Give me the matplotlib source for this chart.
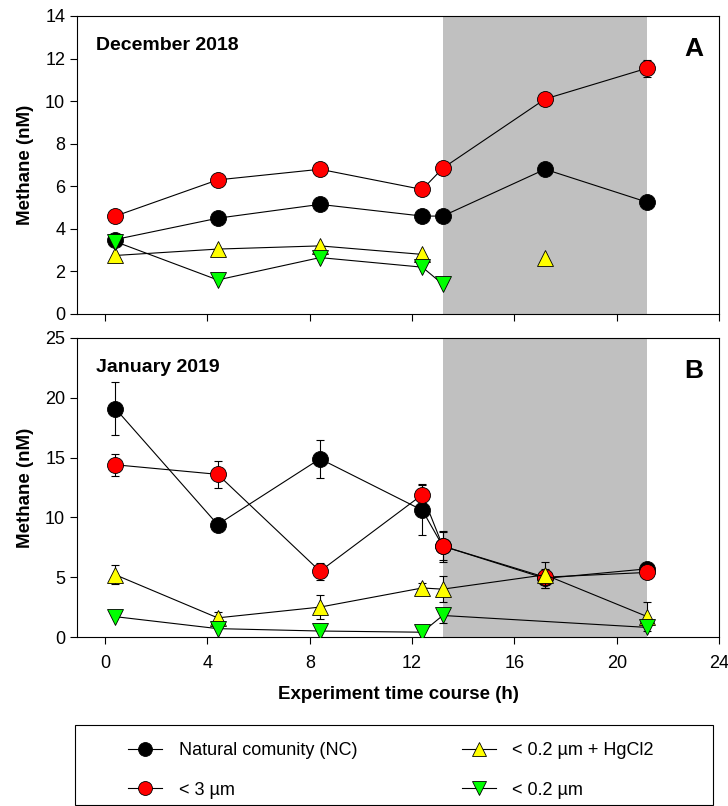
import numpy as np
import matplotlib
matplotlib.use("Agg")
import matplotlib.pyplot as plt
from matplotlib import font_manager
from matplotlib.patches import Rectangle
from matplotlib.lines import Line2D

names = {f.name for f in font_manager.fontManager.ttflist}
fam = ["Liberation Sans Narrow"] if "Liberation Sans Narrow" in names else ["Liberation Sans"]
plt.rcParams['font.family'] = fam + ["DejaVu Sans"]

# ---- data ----
t = [0.4, 4.4, 8.4, 12.4, 13.2, 17.2, 21.2]

# December 2018
dec_nc = [3.5, 4.5, 5.15, 4.6, 4.6, 6.8, 5.25]
dec_nc_err = [0, 0, 0, 0, 0, 0, 0]
dec_3um = [4.6, 6.3, 6.8, 5.85, 6.85, 10.1, 11.55]
dec_3um_err = [0, 0, 0, 0, 0, 0, 0.4]
dec_hg = [2.75, 3.05, 3.2, 2.8, np.nan, 2.65, np.nan]
dec_hg_err = [0, 0, 0, 0, 0, 0, 0]
dec_02 = [3.4, 1.6, 2.65, 2.2, 1.4, np.nan, np.nan]
dec_02_err = [0, 0, 0, 0, 0, 0, 0]

# January 2019
jan_nc = [19.1, 9.4, 14.9, 10.6, 7.6, 4.9, 5.7]
jan_nc_err = [2.2, 0, 1.6, 2.1, 1.3, 0.8, 0]
jan_3um = [14.4, 13.6, 5.5, 11.9, 7.6, 5.0, 5.4]
jan_3um_err = [0.9, 1.1, 0.7, 0.9, 1.2, 0.5, 0]
jan_hg = [5.2, 1.6, 2.5, 4.1, 4.0, 5.2, 1.7]
jan_hg_err = [0.8, 0.5, 1.0, 0.4, 1.1, 1.1, 1.2]
jan_02_t = [0.4, 4.4, 8.4, 12.4, 13.2, 21.2]
jan_02 = [1.7, 0.7, 0.5, 0.4, 1.8, 0.8]
jan_02_err = [0, 0, 0, 0, 0.6, 0]

labels = ["Natural comunity (NC)", "< 3 \u00b5m", "< 0.2 \u00b5m + HgCl2", "< 0.2 \u00b5m"]
colors = ["black", "#ff0000", "#ffff00", "#00ff00"]
markers = ["o", "o", "^", "v"]

fig = plt.figure(figsize=(7.28, 8.06), dpi=100)
W, H = 728, 806
def ax_rect(x0, y0, x1, y1):
    return [x0 / W, 1 - y1 / H, (x1 - x0) / W, (y1 - y0) / H]

axA = fig.add_axes(ax_rect(77, 16, 719, 314))
axB = fig.add_axes(ax_rect(77, 338, 719, 637))

def draw(ax, series, ylim, yticks, title, letter):
    ax.axvspan(13.2, 21.2, color="#c0c0c0", zorder=0, lw=0)
    for i, (x, y, e) in enumerate(series):
        x = np.array(x, float); y = np.array(y, float); e = np.array(e, float)
        ms = 11.5 if markers[i] == "o" else 11
        m = ~np.isnan(y) & (e > 0)
        if m.any():
            ax.errorbar(x[m], y[m], yerr=e[m], fmt="none", ecolor="black",
                        elinewidth=0.8, capsize=3, capthick=0.8, zorder=2 + i)
        ax.plot(x, y, color="black", lw=0.8, marker=markers[i], ms=ms,
                mfc=colors[i], mec="black", mew=0.6, zorder=3 + i,
                label=labels[i])
    ax.set_xlim(-1.1, 24)
    ax.set_ylim(*ylim)
    ax.set_yticks(yticks)
    ax.set_xticks([0, 4, 8, 12, 16, 20, 24])
    ax.tick_params(direction="out", labelsize=13, length=5, width=0.8)
    ax.tick_params(axis="x", pad=8)
    ax.set_ylabel("Methane (nM)", fontsize=13.5, fontweight="bold",
                  family=["Liberation Sans", "DejaVu Sans"], labelpad=8)
    ax.text(0.03, 0.93, title, transform=ax.transAxes, fontsize=14,
            fontweight="bold", va="top", ha="left")
    ax.text(0.975, 0.93, letter, transform=ax.transAxes, fontsize=19,
            fontweight="bold", va="top", ha="right",
            family=["Liberation Sans", "DejaVu Sans"])
    for s in ax.spines.values():
        s.set_linewidth(0.8)

draw(axA, [(t, dec_nc, dec_nc_err), (t, dec_3um, dec_3um_err),
           (t, dec_hg, dec_hg_err), (t, dec_02, dec_02_err)],
     (0, 14), range(0, 15, 2), "December 2018", "A")
axA.tick_params(labelbottom=False)

draw(axB, [(t, jan_nc, jan_nc_err), (t, jan_3um, jan_3um_err),
           (t, jan_hg, jan_hg_err), (jan_02_t, jan_02, jan_02_err)],
     (0, 25), range(0, 26, 5), "January 2019", "B")
axB.set_xlabel("Experiment time course (h)", fontsize=13.5, fontweight="bold",
               labelpad=10)

# legend frame
fig.patches.append(Rectangle((75 / W, 1 - 805 / H), (713 - 75) / W, (805 - 725) / H,
                             transform=fig.transFigure, fill=False,
                             edgecolor="black", lw=0.8))

lh = [Line2D([], [], color="black", lw=0.8, marker=markers[i], ms=10,
             mfc=colors[i], mec="black", mew=0.6) for i in range(4)]
leg = fig.legend(lh, labels, ncol=2, loc="upper left",
                 bbox_to_anchor=(128 / W, 1 - 742 / H),
                 frameon=False, fontsize=13, borderpad=0, borderaxespad=0,
                 labelspacing=1.25, handlelength=1.9, handletextpad=0.9,
                 columnspacing=5.8)
fig.savefig("out.png", dpi=100)
